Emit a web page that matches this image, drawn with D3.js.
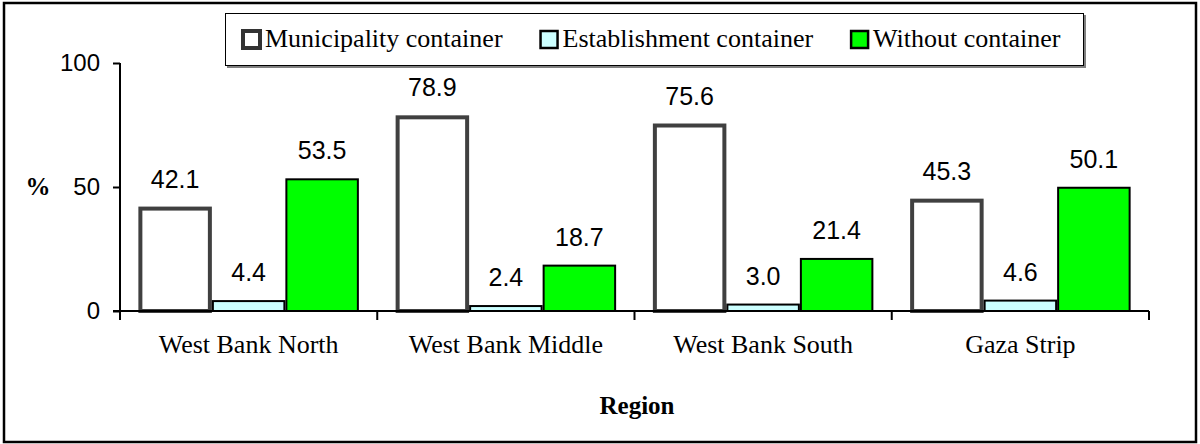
<!DOCTYPE html>
<html>
<head>
<meta charset="utf-8">
<script src="https://cdn.jsdelivr.net/npm/d3@7"></script>
<style>
  body { margin: 0; background: #fff; }
  .sans { font-family: 'Liberation Sans', Arial, Helvetica, sans-serif; }
  .serif { font-family: 'Liberation Serif', 'Times New Roman', Times, serif; }
</style>
</head>
<body>
<svg id="chart"></svg>
<script>
// datos del gráfico
let regions = ["West Bank North", "West Bank Middle", "West Bank South", "Gaza Strip"];
let series = ["Municipality container", "Establishment container", "Without container"];
let municipality = [42.1, 78.9, 75.6, 45.3];
let establishment = [4.4, 2.4, 3.0, 4.6];
let without = [53.5, 18.7, 21.4, 50.1];
let yTicks = [0, 50, 100];

let values = [municipality, establishment, without];

let svgWidth = 1200;
let svgHeight = 444;

let svg = d3.select("#chart")
  .attr("width", svgWidth)
  .attr("height", svgHeight);

// estilos de cada serie
let fills = ["#ffffff", "#ccffff", "#00ff00"];
let strokes = ["#404040", "#000000", "#000000"];
let strokeW = [4, 2, 2];

// marco exterior
svg.append("rect")
  .attr("x", 4).attr("y", 3)
  .attr("width", 1192).attr("height", 439)
  .attr("fill", "none")
  .attr("stroke", "#000")
  .attr("stroke-width", 2.5);

let x0 = d3.scaleBand().domain(regions).range([120, 1149]).paddingInner(0).paddingOuter(0);
let x1 = d3.scaleBand().domain(series).range([0, x0.bandwidth()]).paddingInner(0).paddingOuter(0.25);
let y = d3.scaleLinear().domain([0, 100]).range([311, 63]);

// barras
let groups = svg.selectAll("g.grp")
  .data(regions)
  .enter()
  .append("g")
  .attr("class", "grp")
  .attr("transform", d => "translate(" + x0(d) + ",0)");

groups.selectAll("rect")
  .data((d, i) => series.map((s, j) => ({ s: s, j: j, v: values[j][i] })))
  .enter()
  .append("rect")
  .attr("x", d => x1(d.s) + strokeW[d.j] / 2)
  .attr("width", d => x1.bandwidth() - strokeW[d.j])
  .attr("y", d => y(d.v) + strokeW[d.j] / 2)
  .attr("height", d => y(0) - y(d.v) - strokeW[d.j] / 2)
  .attr("fill", d => fills[d.j])
  .attr("stroke", d => strokes[d.j])
  .attr("stroke-width", d => strokeW[d.j]);

// etiquetas de valores
groups.selectAll("text")
  .data((d, i) => series.map((s, j) => ({ s: s, j: j, v: values[j][i] })))
  .enter()
  .append("text")
  .attr("class", "sans")
  .attr("x", d => x1(d.s) + x1.bandwidth() / 2)
  .attr("y", d => y(d.v) - 19)
  .attr("text-anchor", "middle")
  .attr("font-size", 25)
  .text(d => d.v.toFixed(1));

// eje Y
let yAxis = svg.append("g")
  .attr("transform", "translate(120,0)")
  .call(d3.axisLeft(y).tickValues(yTicks).tickSize(7).tickPadding(13).tickFormat(d3.format("d")));
yAxis.select(".domain").remove();
yAxis.selectAll(".tick line").attr("stroke", "#000").attr("stroke-width", 2);
yAxis.selectAll("text")
  .attr("class", "sans")
  .attr("font-size", 24)
  .attr("fill", "#000");
svg.append("line")
  .attr("x1", 120).attr("x2", 120)
  .attr("y1", y(100)).attr("y2", y(0) + 9)
  .attr("stroke", "#000").attr("stroke-width", 2);

// eje X
let bounds = regions.map(r => x0(r)).concat([x0(regions[regions.length - 1]) + x0.bandwidth()]);
svg.append("line")
  .attr("x1", 113).attr("x2", bounds[bounds.length - 1])
  .attr("y1", y(0)).attr("y2", y(0))
  .attr("stroke", "#000").attr("stroke-width", 2);
svg.selectAll("line.xtick")
  .data(bounds.slice(1))
  .enter()
  .append("line")
  .attr("class", "xtick")
  .attr("x1", d => d).attr("x2", d => d)
  .attr("y1", y(0)).attr("y2", y(0) + 9)
  .attr("stroke", "#000").attr("stroke-width", 2);

svg.selectAll("text.cat")
  .data(regions)
  .enter()
  .append("text")
  .attr("class", "cat serif")
  .attr("x", d => x0(d) + x0.bandwidth() / 2)
  .attr("y", 353)
  .attr("text-anchor", "middle")
  .attr("font-size", 26)
  .text(d => d);

// títulos de ejes
svg.append("text")
  .attr("class", "serif")
  .attr("x", 38).attr("y", 195)
  .attr("text-anchor", "middle")
  .attr("font-weight", "bold")
  .attr("font-size", 25)
  .text("%");

svg.append("text")
  .attr("class", "serif")
  .attr("x", 637).attr("y", 414)
  .attr("text-anchor", "middle")
  .attr("font-weight", "bold")
  .attr("font-size", 25)
  .text("Region");

// leyenda
let legend = svg.append("g");
legend.append("rect")
  .attr("x", 227).attr("y", 15)
  .attr("width", 859).attr("height", 53)
  .attr("fill", "#808080");
legend.append("rect")
  .attr("x", 225.5).attr("y", 13.5)
  .attr("width", 858).attr("height", 52)
  .attr("fill", "#fff")
  .attr("stroke", "#000")
  .attr("stroke-width", 1);

let lx = 243;
series.forEach((s, j) => {
  legend.append("rect")
    .attr("x", lx).attr("y", 31)
    .attr("width", 17).attr("height", 17)
    .attr("fill", fills[j])
    .attr("stroke", j === 0 ? "#333" : "#000")
    .attr("stroke-width", j === 0 ? 4 : 2.5);
  let t = legend.append("text")
    .attr("class", "serif")
    .attr("x", lx + 22).attr("y", 47)
    .attr("font-size", 26)
    .text(s);
  lx = lx + 22 + t.node().getComputedTextLength() + 38;
});
</script>
</body>
</html>
